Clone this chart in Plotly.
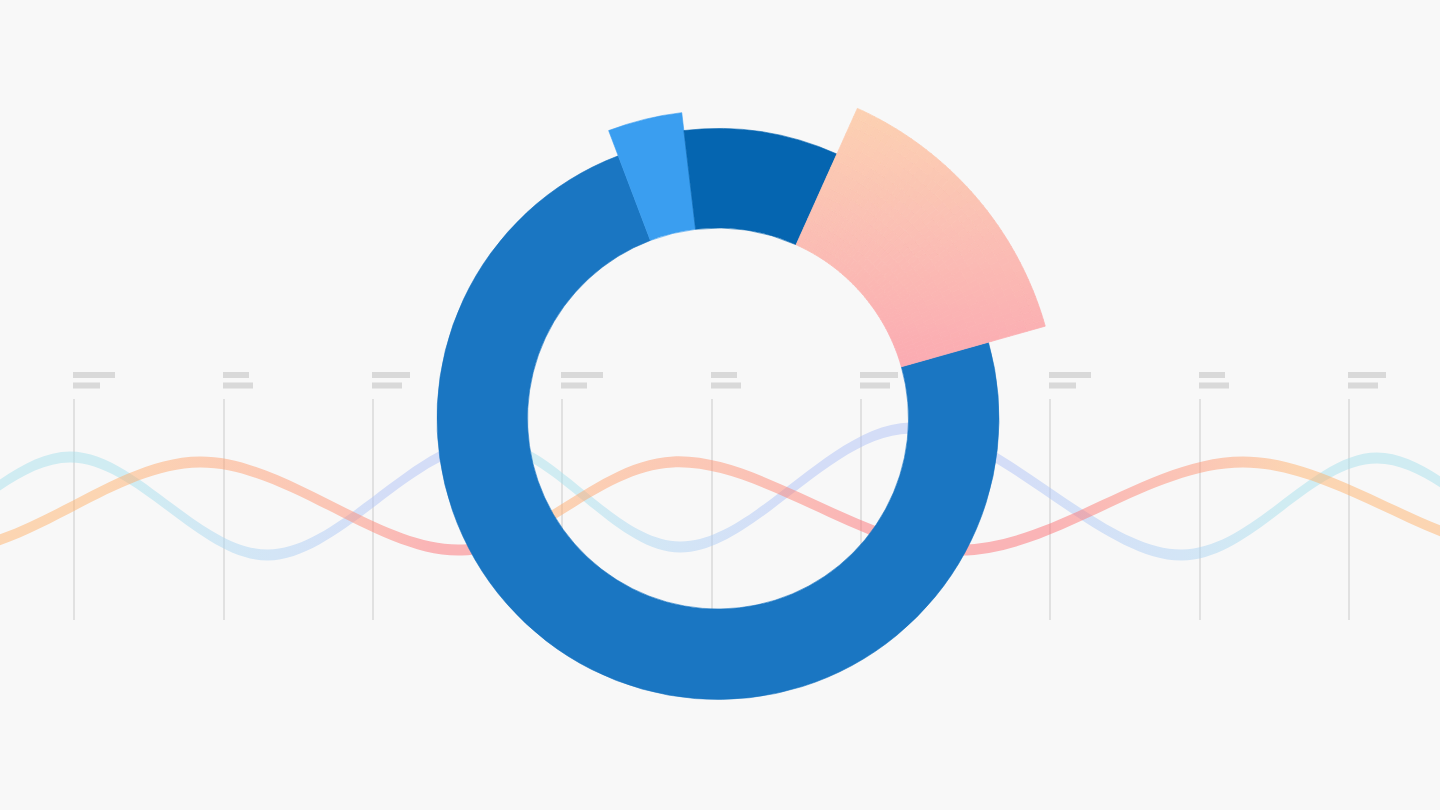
import numpy as np
import plotly.graph_objects as go

# ring segments, clockwise starting from the highlighted (gradient) one
seg_share = [13.9, 73.6, 3.9, 8.6]      # percent of the full ring
seg_reach = [340, 281, 308, 290]        # outer radius of each segment
seg_color = ["gradient", "#1a76c2", "#3a9ef0", "#0565b0"]
ring_start = 24.2                       # degrees clockwise from 12 o'clock
ring_inner = 190.5

# the two waves behind the ring: their peaks and troughs (first/last ones off screen)
blue_x = [-326, -128, 70, 268, 487, 680, 910, 1182, 1377, 1572, 1767]
blue_y = [0.96, -1.00, 0.96, -1.00, 1.24, -0.84, 1.54, -1.00, 0.94, -1.00, 0.94]
orange_x = [-316, -54, 200, 462, 673, 960, 1243, 1526, 1790]
orange_y = [0.86, -0.90, 0.86, -0.90, 0.86, -0.90, 0.86, -0.90, 0.86]

# vertical guides and their placeholder labels
grid_x = [74, 224, 373, 562, 712, 861, 1050, 1200, 1349]
label_top = [42, 26, 38, 42, 26, 38, 42, 26, 38]
label_bot = [27, 30, 30, 26, 30, 30, 27, 30, 30]

W, H = 1440, 810
BG = "#f8f8f8"
CX, CY, S = 718, 418.5, 345          # ring centre (px) and half size of polar box
Y_TOP, Y_BOT = 399, 620              # wave panel in px
Y_RANGE = [-2.3, 2.12]
PX_PER_Y = (Y_BOT - Y_TOP) / (Y_RANGE[1] - Y_RANGE[0])
HALF_PX = 5.5                        # half thickness of a wave ribbon

fig = go.Figure()


def ribbon(xs, ys, scale, name):
    ys = np.array(ys, float)
    half = HALF_PX / PX_PER_Y
    fig.add_trace(go.Scatter(x=xs, y=ys + half, mode="lines", line=dict(width=0, shape="spline"),
                             hoverinfo="skip", showlegend=False, name=name))
    fig.add_trace(go.Scatter(x=xs, y=ys - half, mode="lines", line=dict(width=0, shape="spline"),
                             fill="tonexty", fillcolor="rgba(0,0,0,0)",
                             fillgradient=dict(type="horizontal", colorscale=scale, start=0, stop=W),
                             hoverinfo="skip", showlegend=False, name=name))


cyan, lblue, lav = "rgba(168,224,236,0.5)", "rgba(174,210,244,0.5)", "rgba(176,194,246,0.5)"
peach, psal, salmon, pink = ("rgba(255,178,108,0.5)", "rgba(255,163,112,0.5)",
                             "rgba(254,148,116,0.5)", "rgba(252,112,116,0.5)")

blue_scale = [[0, cyan], [0.09, cyan], [0.19, lblue], [0.27, lav], [0.31, lav], [0.36, cyan],
              [0.40, cyan], [0.47, lblue], [0.55, lav], [0.70, lav], [0.82, lblue], [0.89, cyan], [1, cyan]]
orange_scale = [[0, peach], [0.07, peach], [0.14, psal], [0.23, salmon], [0.30, pink], [0.33, pink],
                [0.37, peach], [0.42, psal], [0.50, salmon], [0.60, pink], [0.73, pink], [0.83, salmon],
                [0.90, peach], [1, peach]]

ribbon(blue_x, blue_y, blue_scale, "blue")
ribbon(orange_x, orange_y, orange_scale, "orange")

# ring
widths = [3.6 * s for s in seg_share]
starts = ring_start + np.concatenate([[0], np.cumsum(widths)[:-1]])

solid = [i for i, c in enumerate(seg_color) if c != "gradient"]
fig.add_trace(go.Barpolar(
    theta=[starts[i] + widths[i] / 2 for i in solid],
    width=[widths[i] for i in solid],
    base=[ring_inner] * len(solid),
    r=[seg_reach[i] - ring_inner for i in solid],
    marker=dict(color=[seg_color[i] for i in solid],
                line=dict(color=[seg_color[i] for i in solid], width=0.6)),
    hoverinfo="skip", showlegend=False,
))

# gradient segment, split into small cells coloured by their height
grad_stops = [(0.0, (251, 171, 178)), (0.5, (251, 190, 180)), (1.0, (252, 209, 178))]


def grad_color(t):
    for (p0, c0), (p1, c1) in zip(grad_stops[:-1], grad_stops[1:]):
        if t <= p1:
            f = (t - p0) / (p1 - p0)
            c = [round(a + (b - a) * f) for a, b in zip(c0, c1)]
            return "rgb(%d,%d,%d)" % tuple(c)
    return "rgb(%d,%d,%d)" % grad_stops[-1][1]


for i, c in enumerate(seg_color):
    if c != "gradient":
        continue
    t_edges = np.linspace(starts[i], starts[i] + widths[i], 49)
    r_edges = np.linspace(ring_inner, seg_reach[i], 17)
    u_top = seg_reach[i] * np.cos(np.radians(starts[i]))
    u_bot = ring_inner * np.cos(np.radians(starts[i] + widths[i]))
    th, wd, bs, rr, cols = [], [], [], [], []
    for a0, a1 in zip(t_edges[:-1], t_edges[1:]):
        for r0, r1 in zip(r_edges[:-1], r_edges[1:]):
            tc, rc = (a0 + a1) / 2, (r0 + r1) / 2
            u = rc * np.cos(np.radians(tc))
            th.append(tc)
            wd.append(a1 - a0)
            bs.append(r0)
            rr.append(r1 - r0)
            cols.append(grad_color(min(max((u - u_bot) / (u_top - u_bot), 0), 1)))
    fig.add_trace(go.Barpolar(theta=th, width=wd, base=bs, r=rr,
                              marker=dict(color=cols, line=dict(color=cols, width=0.8)),
                              hoverinfo="skip", showlegend=False))

# placeholder labels above the guides
shapes = []
for gx, wt, wb in zip(grid_x, label_top, label_bot):
    shapes.append(dict(type="rect", xref="x", yref="paper", x0=gx - 1, x1=gx - 1 + wt,
                       y0=1 - 378 / H, y1=1 - 372 / H, fillcolor="#d9d9d9", line_width=0, layer="below"))
    shapes.append(dict(type="rect", xref="x", yref="paper", x0=gx - 1, x1=gx - 1 + wb,
                       y0=1 - 388.5 / H, y1=1 - 382.5 / H, fillcolor="#d9d9d9", line_width=0, layer="below"))

fig.update_layout(
    width=W, height=H, autosize=False,
    margin=dict(l=0, r=0, t=0, b=0, pad=0),
    paper_bgcolor=BG, plot_bgcolor="rgba(0,0,0,0)",
    showlegend=False,
    xaxis=dict(range=[0, W], tickvals=grid_x, showticklabels=False, ticks="",
               showgrid=True, gridcolor="#e1e1e1", gridwidth=2,
               zeroline=False, showline=False, fixedrange=True),
    yaxis=dict(range=Y_RANGE, domain=[1 - Y_BOT / H, 1 - Y_TOP / H],
               showgrid=False, zeroline=False, showline=False, showticklabels=False,
               ticks="", fixedrange=True),
    polar=dict(
        domain=dict(x=[(CX - S) / W, (CX + S) / W], y=[(H - CY - S) / H, (H - CY + S) / H]),
        bgcolor="rgba(0,0,0,0)",
        radialaxis=dict(range=[0, S], visible=False),
        angularaxis=dict(rotation=90, direction="clockwise", visible=False),
    ),
    shapes=shapes,
)

# page margin off so the figure fills the window
fig.write_html("out.html", config={"displayModeBar": False},
               post_script="document.body.style.margin='0';document.body.style.background='%s';" % BG)
